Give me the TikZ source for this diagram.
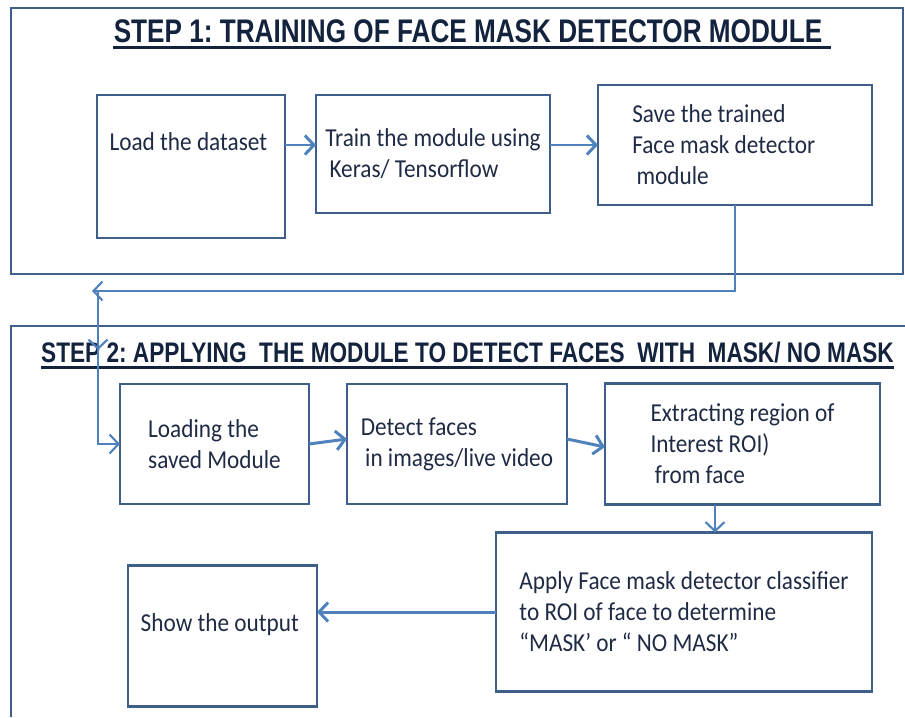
\documentclass[tikz,border=0pt]{standalone}
\usepackage{fontspec}
\setmainfont{Carlito}[FakeStretch=0.9]
\newfontfamily\titlefont{Liberation Sans}[FakeStretch=0.8]
\usepackage{tikz}
\usetikzlibrary{positioning,arrows.meta,calc}

\definecolor{boxline}{HTML}{3E5F8A}
\definecolor{flowblue}{HTML}{4F81BD}
\definecolor{inktext}{HTML}{1F2A44}
\definecolor{titleink}{HTML}{13223D}

\frenchspacing

\begin{document}
\begin{tikzpicture}[
      >={Straight Barb[length=1.8mm,width=3.8mm]},
      font=\fontsize{14.7}{17.6}\selectfont,
      text=inktext
    ]

    \tikzstyle{box} = [rectangle, draw=boxline, line width=1.4pt, align=left, inner sep=0pt, outer sep=0pt]
    \tikzstyle{frame} = [draw=boxline, line width=1.2pt]
    \tikzstyle{heading} = [font=\titlefont\bfseries\fontsize{18.6}{21}\selectfont, text=titleink, inner sep=0pt, text depth=0pt]
    \tikzstyle{conn} = [->, draw=flowblue, line width=1.7pt]
    \tikzstyle{longconn} = [->, draw=flowblue, line width=1.2pt]

    \useasboundingbox (0,0) rectangle (18.1,-14.34);

    % step 1 frame and heading
    \draw [frame] (0.22,-0.16) rectangle (18.06,-5.48);
    \node [heading] (head1) at (9.36,-0.62) {STEP 1: TRAINING OF FACE MASK DETECTOR MODULE};
    \draw [titleink, line width=1.7pt] ([yshift=-0.09cm]head1.south west) -- ([xshift=0.16cm,yshift=-0.09cm]head1.south east);

    \node [box, minimum width=3.76cm, minimum height=2.86cm, text depth=1.0cm] (load) at (3.82,-3.33) {
        Load the dataset
        };
    \node [box, minimum width=4.68cm, minimum height=2.36cm, right=0.62cm of load.north east, anchor=north west] (train) {
        Train the module using\\
        \,Keras/ Tensorflow
        };
    \node [box, minimum width=5.48cm, minimum height=2.4cm, right=0.96cm of train.east, yshift=0.18cm] (save) {
        Save the trained\\
        Face mask detector\rule{0.45cm}{0pt}\\
        \,module
        };

    % step 2 frame and heading
    \draw [frame] (18.1,-6.52) -- (0.22,-6.52) -- (0.22,-14.34);
    \node [heading, font=\titlefont\bfseries\fontsize{16.1}{19}\selectfont] (head2) at (9.35,-7.05) {STEP 2: APPLYING~ THE MODULE TO DETECT FACES~ WITH~ MASK/ NO MASK};
    \draw [titleink, line width=1.7pt] ([yshift=-0.09cm]head2.south west) -- ([yshift=-0.09cm]head2.south east);

    \node [box, minimum width=3.78cm, minimum height=2.4cm] (loadmod) at (4.29,-8.88) {
        Loading the\\
        saved Module
        };
    \node [box, minimum width=4.4cm, minimum height=2.4cm, right=0.76cm of loadmod] (detect) {
        Detect faces\\
        \,in images/live video
        };
    \node [box, minimum width=5.5cm, minimum height=2.42cm, right=0.76cm of detect] (extract) {
        Extracting region of\\
        Interest ROI)\\
        \,from face
        };
    \node [box, minimum width=7.52cm, minimum height=3.18cm, below=0.56cm of extract.south east, anchor=north east, xshift=-0.16cm] (apply) {
        Apply Face mask detector classifier\\
        to ROI of face to determine\\
        “MASK’ or “ NO MASK”
        };
    \node [box, minimum width=3.78cm, minimum height=2.82cm, text depth=0.55cm, left=3.58cm of apply, yshift=-0.48cm] (show) {
        Show the output
        };

    % connectors
    \coordinate (back) at (1.84,-5.82);
    \coordinate (drop) at (1.96,-5.82);
    \coordinate (dropmid) at (1.96,-7.0);

    \draw [conn] (load.east |- save.west) -- (train.west |- save.west);
    \draw [conn] (train.east |- save.west) -- (save.west);
    \draw [longconn] (save.south) |- (back);
    \draw [longconn] (drop) -- (dropmid);
    \draw [longconn] (drop) |- (loadmod.west);
    \draw [conn] (loadmod.east) -- ([yshift=0.1cm]detect.west);
    \draw [conn] ([yshift=0.1cm]detect.east) -- ([yshift=-0.06cm]extract.west);
    \draw [conn, line width=1.2pt] ([xshift=-0.55cm]extract.south) -- ([xshift=-0.55cm]extract.south |- apply.north);
    \draw [conn] (apply.west) -- (show.east |- apply.west);

\end{tikzpicture}
\end{document}
